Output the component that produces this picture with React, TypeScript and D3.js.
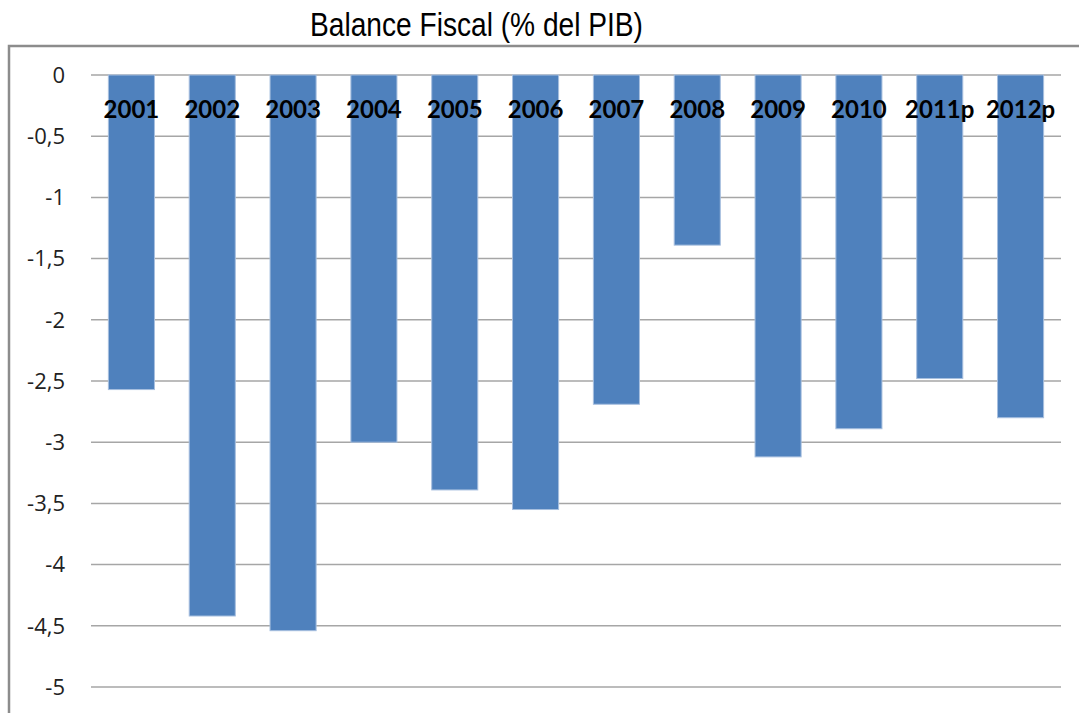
import React from "react";
import * as d3 from "d3";

const categories = ["2001", "2002", "2003", "2004", "2005", "2006", "2007", "2008", "2009", "2010", "2011p", "2012p"];
const values = [-2.57, -4.42, -4.54, -3.0, -3.39, -3.55, -2.69, -1.39, -3.12, -2.89, -2.48, -2.8];
const yTicks = [0, -0.5, -1, -1.5, -2, -2.5, -3, -3.5, -4, -4.5, -5];
const title = "Balance Fiscal (% del PIB)";

const W = 1079;
const H = 713;

export default function App() {
  const left = 91, right = 1061, top = 75, bottom = 687;
  const x = d3.scaleBand<string>().domain(categories).range([left, right]).paddingInner(0.43).paddingOuter(0.215);
  const y = d3.scaleLinear().domain([0, -5]).range([top, bottom]);
  const fmt = (v: number) => String(v).replace(".", ",");
  return (
    <svg width={W} height={H} style={{ position: "absolute", left: 0, top: 0, background: "#fff" }}>
      <rect x={0} y={0} width={W} height={H} fill="#fff" />
      <text x={310} y={36} fontFamily="'Liberation Sans Narrow', 'Arial Narrow', 'Liberation Sans', sans-serif" fontSize={34} fill="#000" textLength={333} lengthAdjust="spacingAndGlyphs">{title}</text>
      <path d={`M9,${H + 5} V46 H${W + 5}`} fill="none" stroke="#8c8c8c" strokeWidth={2.5} />
      {yTicks.map((t) => (
        <g key={t}>
          <line x1={left} x2={right} y1={y(t)} y2={y(t)} stroke="#a6a6a6" strokeWidth={1.5} />
          <text x={65} y={y(t)} dy="0.35em" textAnchor="end" fontFamily="'Open Sans', sans-serif" fontSize={22} fill="#222">{fmt(t)}</text>
        </g>
      ))}
      {categories.map((c, i) => (
        <rect key={c} x={x(c)} y={y(0)} width={x.bandwidth()} height={y(values[i]) - y(0)} fill="#4f81bd" stroke="#a7bfdf" strokeWidth={1} />
      ))}
      {categories.map((c) => (
        <text key={c} x={(x(c) as number) + x.bandwidth() / 2} y={118} textAnchor="middle" fontFamily="Lato, 'Open Sans', sans-serif" fontWeight="bold" fontSize={24} fill="#000">{c}</text>
      ))}
    </svg>
  );
}
